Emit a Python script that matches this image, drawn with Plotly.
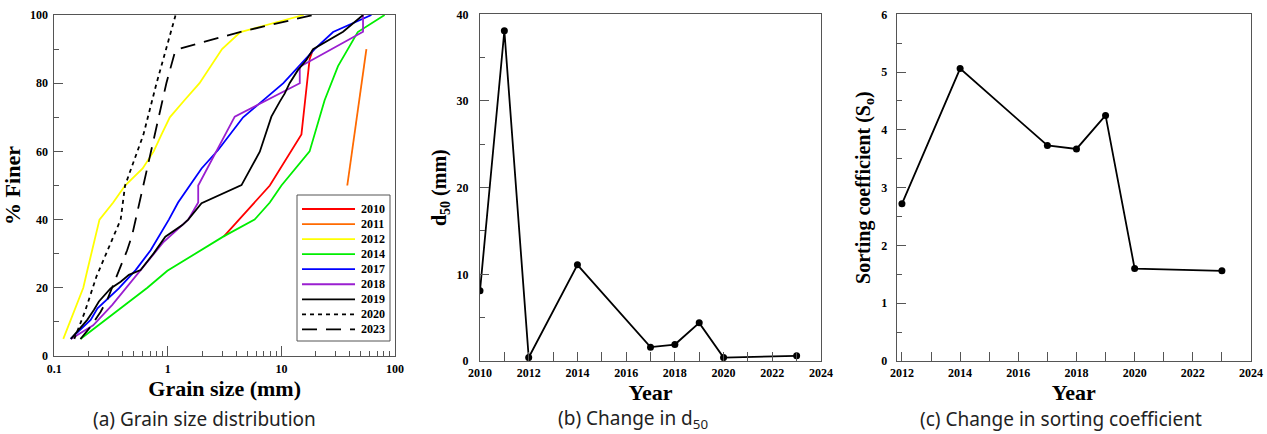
import plotly.graph_objects as go

# ---------------- data: panel (a) grain size distribution ----------------
years_a = ["2010", "2011", "2012", "2014", "2017", "2018", "2019", "2020", "2023"]

size_2010 = [3.1, 7.9, 15, 17.7, 19]
finer_2010 = [35, 50, 65, 87, 90]

size_2011 = [38, 56]
finer_2011 = [50, 90]

size_2012 = [0.12, 0.145, 0.18, 0.195, 0.25, 0.33, 0.42, 0.6, 0.75, 0.88, 1.04, 1.4, 1.9, 3.0, 4.35, 15.7]
finer_2012 = [5, 12, 20, 25, 40, 45, 50, 55, 60, 65, 70, 75, 80, 90, 95, 100]

size_2014 = [0.17, 0.66, 0.99, 1.75, 3.07, 5.8, 7.9, 10, 12.6, 17.7, 24, 31.5, 47, 81]
finer_2014 = [5, 20, 25, 30, 35, 40, 45, 50, 54, 60, 75, 85, 95, 100]

size_2017 = [0.139, 0.209, 0.24, 0.37, 0.52, 0.705, 1.02, 1.23, 1.56, 1.98, 2.77, 4.6, 10.4, 19.6, 28.5, 62]
finer_2017 = [5, 10.6, 14, 19.8, 25.2, 31, 40, 45, 50, 55, 60.4, 70, 80, 90, 95, 100]

size_2018 = [0.14, 0.22, 0.324, 0.424, 0.556, 0.92, 1.51, 1.85, 1.85, 3.88, 14.5, 14.5, 52.3, 52.3]
finer_2018 = [5, 9, 15, 19.8, 24.7, 33.5, 40, 45, 50, 70.2, 80, 84.8, 95.1, 100]

size_2019 = [0.14, 0.195, 0.223, 0.247, 0.313, 0.384, 0.454, 0.575, 0.75, 0.95, 1.34, 1.51, 1.98,
             4.45, 6.45, 7.13, 8.16, 9.67, 10.7, 11.8, 14, 16.6, 19, 34.9, 52.3]
finer_2019 = [5, 10.6, 13.5, 16, 19.8, 21.8, 23.8, 25.2, 30.1, 35, 38.4, 40, 44.8,
              50.1, 59.9, 64.3, 70.2, 74.6, 77, 80, 83.9, 86.8, 90, 95.1, 100]

size_2020 = [0.15, 0.186, 0.235, 0.31, 0.384, 0.42, 0.61, 0.795, 1.17]
finer_2020 = [5, 13, 23.3, 33, 40, 50, 65, 80, 100]

size_2023 = [0.17, 0.209, 0.256, 0.292, 0.358, 0.438, 0.485, 0.61, 0.77, 0.97, 1.15, 1.23, 4.3, 19]
finer_2023 = [5, 8.6, 13, 16.4, 23.8, 31, 35.5, 50, 65, 80, 89, 90, 95, 100]

sizes_a = [size_2010, size_2011, size_2012, size_2014, size_2017, size_2018, size_2019, size_2020, size_2023]
finers_a = [finer_2010, finer_2011, finer_2012, finer_2014, finer_2017, finer_2018, finer_2019, finer_2020, finer_2023]

# ---------------- data: panel (b) d50 ----------------
years_b = [2010, 2011, 2012, 2014, 2017, 2018, 2019, 2020, 2023]
d50_b = [8.1, 38.1, 0.4, 11.1, 1.6, 1.9, 4.4, 0.4, 0.6]

# ---------------- data: panel (c) sorting coefficient ----------------
years_c = [2012, 2014, 2017, 2018, 2019, 2020, 2023]
so_c = [2.72, 5.06, 3.73, 3.67, 4.25, 1.60, 1.56]

# ---------------- styles ----------------
colors_a = ["#FF0000", "#FF6A00", "#FFFF00", "#00EE00", "#0000FF", "#9A1FD0", "#000000", "#000000", "#000000"]
dashes_a = ["solid", "solid", "solid", "solid", "solid", "solid", "solid", "4px,4px", "15px,9px"]

W, H = 1267, 434
SERIF = "Liberation Serif"


def px_x(p):
    return p / W


def px_y(p):
    return 1 - p / H


fig = go.Figure()

for yr, xs, ys, c, d in zip(years_a, sizes_a, finers_a, colors_a, dashes_a):
    fig.add_trace(go.Scatter(x=xs, y=ys, mode="lines", name=yr,
                             line=dict(color=c, width=1.8, dash=d),
                             xaxis="x", yaxis="y", showlegend=False))

fig.add_trace(go.Scatter(x=years_b, y=d50_b, mode="lines+markers",
                         line=dict(color="black", width=1.8),
                         marker=dict(color="black", size=7),
                         xaxis="x2", yaxis="y2", showlegend=False))

fig.add_trace(go.Scatter(x=years_c, y=so_c, mode="lines+markers",
                         line=dict(color="black", width=1.8),
                         marker=dict(color="black", size=7),
                         xaxis="x3", yaxis="y3", showlegend=False))

tickfont = dict(family=SERIF, size=12, color="black", weight="bold")
titlefont = dict(family=SERIF, size=22, color="black", weight="bold")
axcommon = dict(showline=True, linecolor="#555", linewidth=1, mirror=True,
                showgrid=False, zeroline=False, ticks="inside", tickcolor="#555",
                tickfont=tickfont, automargin=False)

fig.update_layout(
    width=W, height=H,
    margin=dict(l=0, r=0, t=0, b=0),
    paper_bgcolor="white", plot_bgcolor="white",
    xaxis=dict(domain=[px_x(54.3), px_x(395)], type="log", range=[-1, 2],
               tickvals=[0.1, 1, 10, 100], ticktext=["0.1", "1", "10", "100"],
               ticklen=10, anchor="y", ticklabelstandoff=2,
               minor=dict(ticks="inside", ticklen=5, tickcolor="#555",
                          tickvals=[m * 10 ** e for e in (-1, 0, 1) for m in range(2, 10)]),
               title=dict(text="Grain size (mm)", font=titlefont, standoff=0),
               **axcommon),
    yaxis=dict(domain=[px_y(356), px_y(15)], range=[0, 100], dtick=20, ticklen=9,
               ticklabelstandoff=3,
               minor=dict(ticks="inside", ticklen=5, dtick=10, tickcolor="#555"),
               title=dict(text="% Finer", font=titlefont, standoff=4), anchor="x",
               **axcommon),
    xaxis2=dict(domain=[px_x(480), px_x(821)], range=[2010, 2024], dtick=2, tick0=2010,
                ticklen=9, anchor="y2", ticklabelstandoff=1,
                minor=dict(ticks="inside", ticklen=9, dtick=1, tickcolor="#555"),
                title=dict(text="Year", font=titlefont, standoff=0),
                **axcommon),
    yaxis2=dict(domain=[px_y(361), px_y(14.3)], range=[0, 40], dtick=10, ticklen=9,
                ticklabelstandoff=8,
                minor=dict(ticks="inside", ticklen=5, dtick=5, tickcolor="#555"),
                title=dict(text="d<sub>50</sub> (mm)", font=dict(family=SERIF, size=20, color="black", weight="bold"), standoff=4),
                anchor="x2", **axcommon),
    xaxis3=dict(domain=[px_x(896.7), px_x(1251)], range=[2011.82, 2024], dtick=2, tick0=2012,
                ticklen=9, anchor="y3", ticklabelstandoff=1,
                minor=dict(ticks="inside", ticklen=9, dtick=1, tick0=2012, tickcolor="#555"),
                title=dict(text="Year", font=titlefont, standoff=0),
                **axcommon),
    yaxis3=dict(domain=[px_y(361), px_y(14.3)], range=[0, 6], dtick=1, ticklen=9,
                ticklabelstandoff=6,
                minor=dict(ticks="inside", ticklen=5, dtick=0.5, tickcolor="#555"),
                title=dict(text="Sorting coefficient (S<sub>o</sub>)", font=dict(family=SERIF, size=20, color="black", weight="bold"), standoff=5),
                anchor="x3", **axcommon),
)

# ---------------- custom legend for panel (a) ----------------
shapes = [dict(type="rect", xref="paper", yref="paper",
               x0=px_x(297), x1=px_x(390), y0=px_y(341), y1=px_y(195),
               line=dict(color="#555", width=1), fillcolor="white", layer="above")]
annotations = []
for i, (yr, c, d) in enumerate(zip(years_a, colors_a, dashes_a)):
    yy = 209 + 15.05 * i
    shapes.append(dict(type="line", xref="paper", yref="paper",
                       x0=px_x(302), x1=px_x(355), y0=px_y(yy), y1=px_y(yy),
                       line=dict(color=c, width=1.8, dash=d), layer="above"))
    annotations.append(dict(xref="paper", yref="paper", x=px_x(359), y=px_y(yy),
                            text=yr, showarrow=False, xanchor="left", yanchor="middle",
                            font=dict(family=SERIF, size=12, color="black", weight="bold")))

# ---------------- captions ----------------
captions = ["(a) Grain size distribution", "(b) Change in d<sub>50</sub>", "(c) Change in sorting coefficient"]
caption_x = [204, 633, 1061]
for t, cx in zip(captions, caption_x):
    annotations.append(dict(xref="paper", yref="paper", x=px_x(cx), y=px_y(419),
                            text=t, showarrow=False, xanchor="center", yanchor="middle",
                            font=dict(family="Noto Sans", size=19, color="#222")))

fig.update_layout(shapes=shapes, annotations=annotations)

fig.write_html("out.html")
